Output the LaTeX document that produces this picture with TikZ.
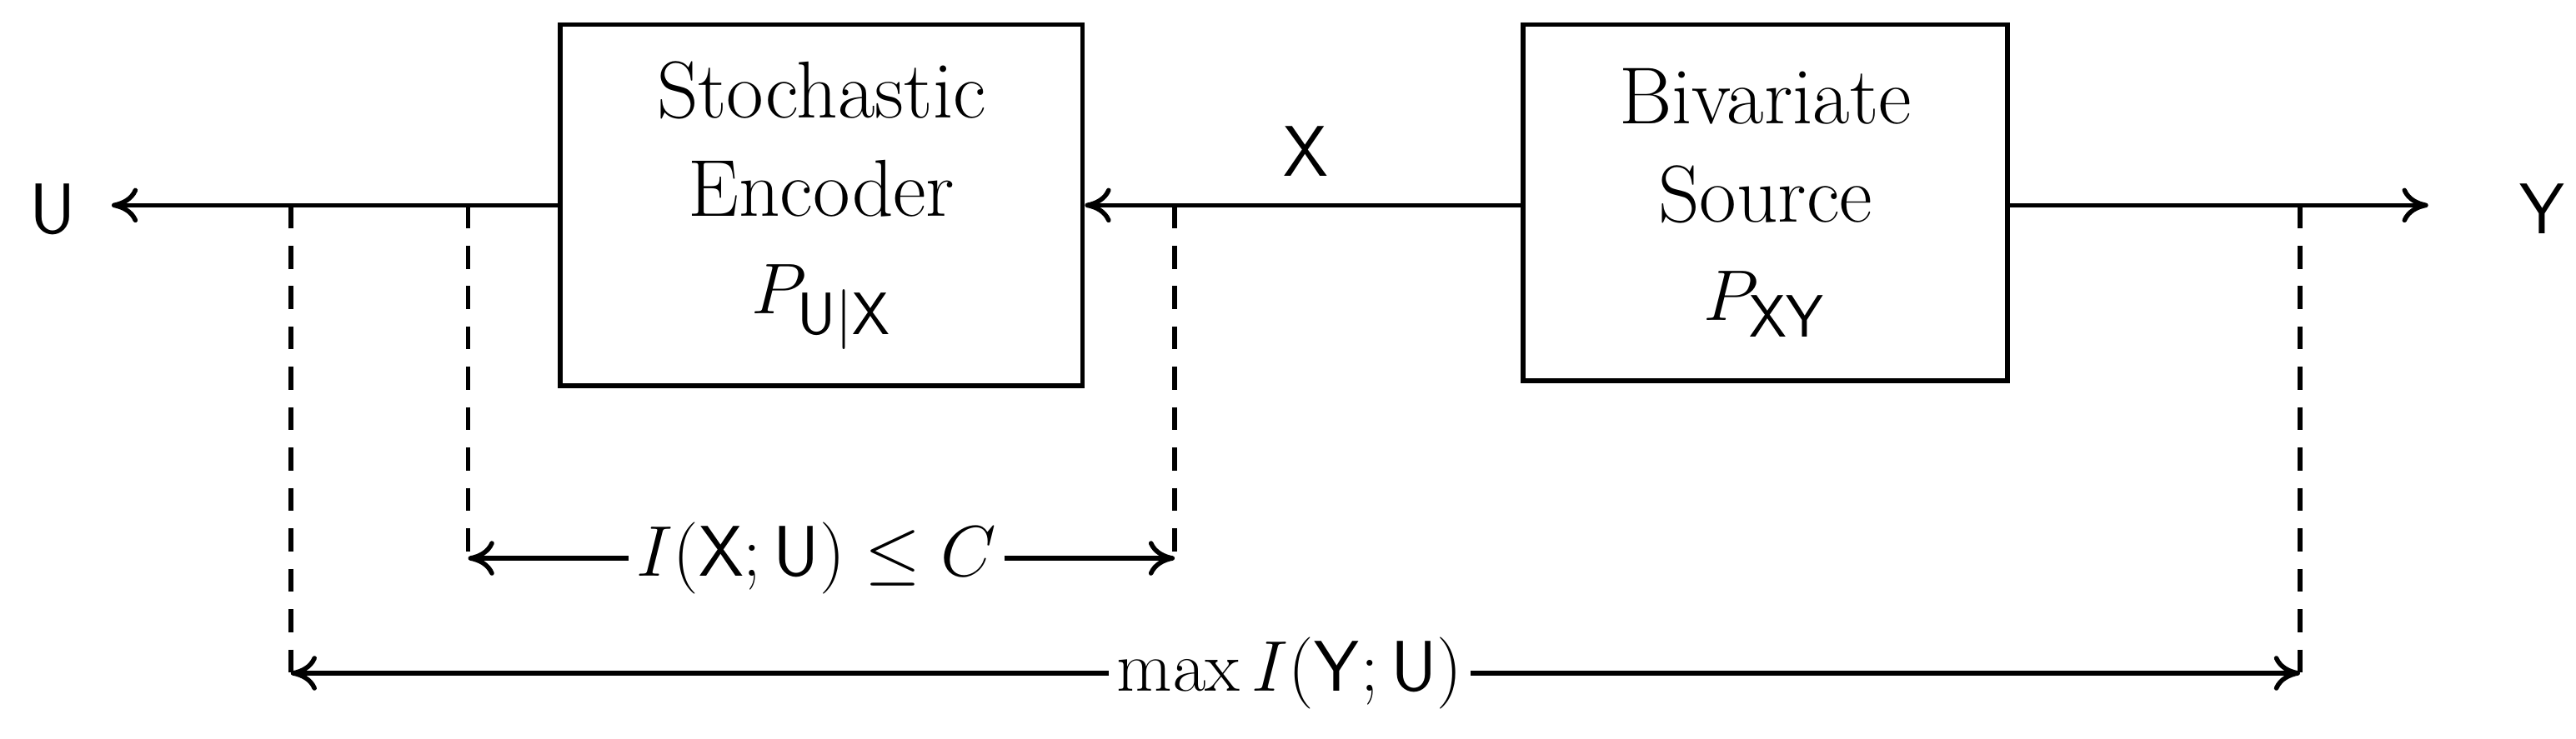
\documentclass[tikz,border=0pt]{standalone}
\usepackage{amsmath}
\usetikzlibrary{arrows.meta}
\begin{document}
\begin{tikzpicture}[x=0.02cm,y=-0.02cm,line width=1.6pt,
  box/.style={draw,align=center,inner sep=0pt},
  lbl/.style={inner sep=2pt,font=\fontsize{28}{34}\selectfont},
  arr/.style={-{To[length=9pt,width=12pt]}},
  dsh/.style={dash pattern=on 8pt off 6pt}]
\useasboundingbox (0,0) rectangle (1568,450);
\node[box,minimum width=318*0.02cm,minimum height=220*0.02cm,lbl] (enc) at (500,125) {Stochastic\\Encoder\\$P_{\mathsf{U}|\mathsf{X}}$};
\node[box,minimum width=295*0.02cm,minimum height=217*0.02cm,lbl] (src) at (1074.5,123.5) {Bivariate\\Source\\$P_{\mathsf{XY}}$};
\node[lbl] (U) at (32,127) {$\mathsf{U}$};
\node[lbl] (Y) at (1548,127) {$\mathsf{Y}$};
\node[lbl] (X) at (795,92) {$\mathsf{X}$};
\coordinate (ut) at (68,125);
\coordinate (yt) at (1478,125);
\draw[arr] (enc.west |- 0,125) -- (ut);
\draw[arr] (src.west |- 0,125) -- (enc.east |- 0,125);
\draw[arr] (src.east |- 0,125) -- (yt);
\coordinate (a1) at (177,125); \coordinate (a2) at (177,410);
\coordinate (b1) at (285,125); \coordinate (b2) at (285,340);
\coordinate (c1) at (715,125); \coordinate (c2) at (715,340);
\coordinate (d1) at (1400,125); \coordinate (d2) at (1400,410);
\draw[dsh] (a1) -- (a2); \draw[dsh] (b1) -- (b2);
\draw[dsh] (c1) -- (c2); \draw[dsh] (d1) -- (d2);
\node[lbl] (cap) at (497,340) {$I(\mathsf{X};\mathsf{U})\le C$};
\node[lbl] (mx) at (785,410) {$\max I(\mathsf{Y};\mathsf{U})$};
\draw[arr] (cap.west) -- (b2);
\draw[arr] (cap.east) -- (c2);
\draw[arr] (mx.west) -- (a2);
\draw[arr] (mx.east) -- (d2);
\end{tikzpicture}
\end{document}
